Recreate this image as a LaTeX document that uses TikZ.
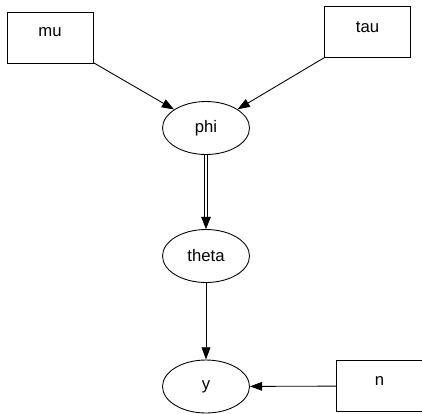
\documentclass[tikz,border=0pt]{standalone}
\usepackage{fontspec}
\setmainfont{Liberation Sans}
\usetikzlibrary{shapes.geometric,arrows.meta}
\begin{document}
\begin{tikzpicture}[x=0.02cm, y=-0.02cm, font=\fontsize{9.5}{11}\selectfont, line width=0.5pt]

\tikzstyle{oval}=[ellipse, draw, minimum width = 1.74cm, minimum height = 1.06cm, inner sep=0pt]
\tikzstyle{box}=[rectangle, draw, minimum width = 1.72cm, minimum height = 1.02cm, inner sep=0pt, text depth=6pt]
\tikzstyle{arrow}=[-{Triangle[length=7pt,width=5pt]}]
\tikzstyle{biarrow}=[double, double distance=1.2pt, -{Triangle[length=7pt,width=5.5pt]}]

\useasboundingbox (0,0) rectangle (422,413);
\clip (0,0) rectangle (422,413);

\node (A) [box]  at (50,37.5)   {mu};

\node (B) [box]  at (367.5,32)  {tau};

\node (C) [oval] at (206,128)   {phi};

\node (D) [oval] at (206,256)   {theta};

\node (E) [oval] at (206,386.5) {y};

\node (F) [box]  at (379.5,386) {n};


\draw [arrow] (A) -- (C);
\draw [arrow] (B) -- (C);
\draw [biarrow] (C) -- (D);
\draw [arrow] (D) -- (E);
\draw [arrow] (F) -- (E);

\end{tikzpicture}
\end{document}
